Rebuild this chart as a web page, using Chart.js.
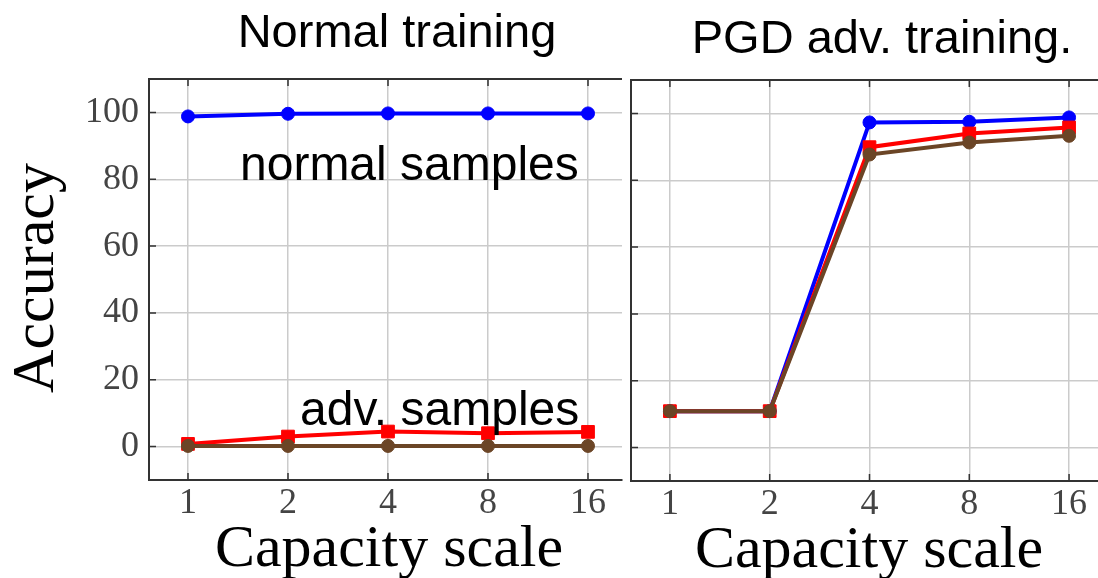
<!DOCTYPE html>
<html>
<head>
<meta charset="utf-8">
<script src="https://cdn.jsdelivr.net/npm/chart.js@4"></script>
<style>
  body { margin: 0; background: #fff; width: 1098px; height: 578px; overflow: hidden; position: relative; }
  canvas { position: absolute; top: 0; }
</style>
</head>
<body>
<canvas id="left" width="626" height="578" style="left:0"></canvas>
<canvas id="right" width="472" height="578" style="left:626px"></canvas>
<script>
// data
const capacity = ['1', '2', '4', '8', '16'];
const yTicks = [0, 20, 40, 60, 80, 100];

// Normal training
const normalClean = [98.8, 99.6, 99.7, 99.7, 99.7];
const normalAdvRed = [0.8, 3.0, 4.5, 4.0, 4.4];
const normalAdvBrown = [0.2, 0.2, 0.2, 0.2, 0.2];

// PGD adv. training
const pgdClean = [10.9, 10.9, 97.3, 97.5, 98.8];
const pgdAdvRed = [10.9, 10.9, 89.9, 94.0, 95.8];
const pgdAdvBrown = [10.9, 10.9, 87.7, 91.3, 93.3];

const SANS = '"Liberation Sans", Arial, sans-serif';
const SERIF = '"Liberation Serif", "Times New Roman", serif';
const spine = '#333';
const gridColor = '#cbcbcb';

const toPoints = (arr) => arr.map((v, i) => ({ x: i, y: v }));

const series = (values, color, style, radius, order) => ({
  data: toPoints(values),
  borderColor: color,
  backgroundColor: color,
  borderWidth: 4,
  pointStyle: style,
  pointRadius: radius,
  pointBorderWidth: 1,
  pointBackgroundColor: color,
  pointBorderColor: color,
  tension: 0,
  order: order
});

// top spine, inner tick marks and all free text
const framePlugin = {
  id: 'frame',
  afterDraw(chart, args, opts) {
    const { ctx, chartArea: { left, right, top, bottom }, scales: { x, y } } = chart;
    ctx.save();
    ctx.strokeStyle = spine;
    ctx.lineWidth = 2;
    ctx.beginPath();
    ctx.moveTo(left - 1, top);
    ctx.lineTo(right, top);
    ctx.stroke();

    ctx.lineWidth = 1.5;
    ctx.beginPath();
    x.ticks.forEach(t => {
      const px = x.getPixelForValue(t.value);
      ctx.moveTo(px, bottom); ctx.lineTo(px, bottom - 7);
      ctx.moveTo(px, top); ctx.lineTo(px, top + 7);
    });
    y.ticks.forEach(t => {
      const py = y.getPixelForValue(t.value);
      ctx.moveTo(left, py); ctx.lineTo(left + 7, py);
    });
    ctx.stroke();

    ctx.fillStyle = '#000';
    (opts.texts || []).forEach(t => {
      ctx.save();
      ctx.font = t.font;
      ctx.textAlign = t.align || 'left';
      ctx.textBaseline = 'alphabetic';
      ctx.translate(t.x, t.y);
      if (t.rotate) ctx.rotate(t.rotate);
      ctx.fillText(t.text, 0, 0);
      ctx.restore();
    });
    ctx.restore();
  }
};

function makeChart(id, datasets, opt) {
  return new Chart(document.getElementById(id), {
    type: 'line',
    data: { datasets },
    options: {
      responsive: false,
      animation: false,
      layout: { autoPadding: false, padding: { top: opt.top, right: opt.right, left: 0, bottom: 0 } },
      plugins: {
        legend: { display: false },
        tooltip: { enabled: false },
        frame: { texts: opt.texts }
      },
      scales: {
        x: {
          type: 'linear',
          min: -0.39,
          max: opt.xMax,
          afterBuildTicks: (s) => { s.ticks = capacity.map((c, i) => ({ value: i })); },
          afterFit: (s) => { s.height = 578 - opt.bottom; },
          grid: { color: gridColor, lineWidth: 1.5, drawTicks: false },
          border: { display: true, color: spine, width: 2 },
          ticks: {
            callback: (v) => capacity[v],
            font: { family: SERIF, size: 36 },
            color: '#444',
            padding: 2,
            maxRotation: 0,
            autoSkip: false
          }
        },
        y: {
          type: 'linear',
          min: -10,
          max: 110,
          afterBuildTicks: (s) => { s.ticks = yTicks.map(v => ({ value: v })); },
          afterFit: (s) => { s.width = opt.yWidth; },
          grid: { color: gridColor, lineWidth: 1.5, drawTicks: false },
          border: { display: true, color: spine, width: 2 },
          ticks: {
            display: opt.yLabels,
            font: { family: SERIF, size: 36 },
            color: '#444',
            padding: 10
          }
        }
      }
    },
    plugins: [framePlugin]
  });
}

makeChart('left', [
  series(normalClean, '#0000ff', 'circle', 6.5, 2),
  series(normalAdvRed, '#ff0000', 'rect', 9, 1),
  series(normalAdvBrown, '#6b4526', 'circle', 6.5, 0)
], {
  top: 79, right: 4, bottom: 480, yWidth: 149, xMax: 4.34, yLabels: true,
  texts: [
    { text: 'Normal training', x: 397, y: 47, font: '47px ' + SANS, align: 'center' },
    { text: 'normal samples', x: 240, y: 180, font: '48px ' + SANS },
    { text: 'adv. samples', x: 300, y: 425, font: '48px ' + SANS },
    { text: 'Accuracy', x: 53, y: 278, font: '60px ' + SERIF, align: 'center', rotate: -Math.PI / 2 },
    { text: 'Capacity scale', x: 389, y: 566, font: '60px ' + SERIF, align: 'center' }
  ]
});

makeChart('right', [
  series(pgdClean, '#0000ff', 'circle', 6.5, 2),
  series(pgdAdvRed, '#ff0000', 'rect', 9, 1),
  series(pgdAdvBrown, '#6b4526', 'circle', 6.5, 0)
], {
  top: 80, right: 0, bottom: 481, yWidth: 5, xMax: 4.29, yLabels: false,
  texts: [
    { text: 'PGD adv. training.', x: 256, y: 53, font: '47px ' + SANS, align: 'center' },
    { text: 'Capacity scale', x: 243, y: 567, font: '60px ' + SERIF, align: 'center' }
  ]
});
</script>
</body>
</html>
